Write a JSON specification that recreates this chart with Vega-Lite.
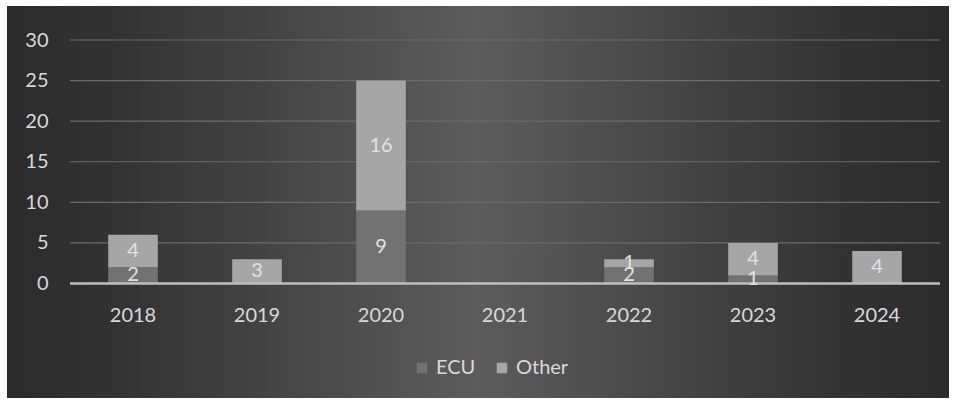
{
  "$schema": "https://vega.github.io/schema/vega-lite/v6.json",
  "width": 942,
  "height": 392,
  "autosize": {"type": "none"},
  "padding": {"left": 7, "top": 6, "right": 7, "bottom": 5},
  "background": "#ffffff",
  "config": {
    "view": {"stroke": null},
    "font": "Lato",
    "axis": {"labelFont": "Lato", "labelFontSize": 20, "labelColor": "#d9d9d9", "domain": false, "ticks": false, "grid": false, "zindex": 1},
    "legend": {"labelFont": "Lato", "labelFontSize": 20, "labelColor": "#d9d9d9", "zindex": 1}
  },
  "datasets": {
    "counts": [
      {"year": "2018", "s": "ECU", "v": 2},
      {"year": "2018", "s": "Other", "v": 4},
      {"year": "2019", "s": "Other", "v": 3},
      {"year": "2020", "s": "ECU", "v": 9},
      {"year": "2020", "s": "Other", "v": 16},
      {"year": "2022", "s": "ECU", "v": 2},
      {"year": "2022", "s": "Other", "v": 1},
      {"year": "2023", "s": "ECU", "v": 1},
      {"year": "2023", "s": "Other", "v": 4},
      {"year": "2024", "s": "Other", "v": 4}
    ],
    "grid": [{"g": 5}, {"g": 10}, {"g": 15}, {"g": 20}, {"g": 25}, {"g": 30}]
  },
  "layer": [
    {
      "data": {"values": [{}]},
      "mark": {
        "type": "rect",
        "fill": {
          "gradient": "linear", "x1": 0, "y1": 0, "x2": 1, "y2": 0,
          "stops": [
            {"offset": 0, "color": "#2b2b2b"},
            {"offset": 0.12, "color": "#333333"},
            {"offset": 0.5, "color": "#5c5c5c"},
            {"offset": 0.88, "color": "#333333"},
            {"offset": 1, "color": "#2b2b2b"}
          ]
        }
      },
      "encoding": {}
    },
    {
      "data": {"name": "grid"},
      "mark": {"type": "rule", "color": "#6b6b6b", "strokeWidth": 1.2},
      "encoding": {
        "y": {"field": "g", "type": "quantitative", "scale": {"domain": [-14.107, 34.189], "nice": false, "zero": false},
          "axis": {"title": null, "values": [0, 5, 10, 15, 20, 25, 30], "offset": -63, "labelPadding": 22, "zindex": 2}},
        "x": {"datum": 0, "type": "quantitative", "scale": {"domain": [-0.072414, 1.010345], "nice": false, "zero": false}, "axis": null},
        "x2": {"datum": 1}
      }
    },
    {
      "data": {"name": "counts"},
      "mark": {"type": "bar"},
      "encoding": {
        "x": {
          "field": "year", "type": "nominal",
          "scale": {"type": "band", "domain": ["2018", "2019", "2020", "2021", "2022", "2023", "2024"], "paddingInner": 0.6, "paddingOuter": 0.5984, "align": 0.682},
          "axis": {"title": null, "labelAngle": 0, "orient": "bottom", "offset": -114.5, "labelPadding": 22, "zindex": 2}
        },
        "y": {
          "field": "v", "type": "quantitative", "stack": "zero",
          "scale": {"domain": [-14.107, 34.189], "nice": false, "zero": false},
          "axis": {"title": null, "values": [0, 5, 10, 15, 20, 25, 30], "offset": -63, "labelPadding": 22, "zindex": 2}
        },
        "order": {"field": "s", "sort": "ascending"},
        "color": {
          "field": "s", "type": "nominal",
          "scale": {"domain": ["ECU", "Other"], "range": ["#727272", "#a6a6a6"]},
          "legend": {
            "title": null, "orient": "none", "direction": "horizontal",
            "legendX": 405, "legendY": 352,
            "symbolType": "square", "symbolSize": 110, "symbolStrokeWidth": 0,
            "columnPadding": 16, "labelOffset": 4
          }
        }
      }
    },
    {
      "data": {"values": [{"z": 0}]},
      "mark": {"type": "rule", "color": "#bfbfbf", "strokeWidth": 2.5},
      "encoding": {
        "y": {"field": "z", "type": "quantitative", "scale": {"domain": [-14.107, 34.189], "nice": false, "zero": false},
          "axis": {"title": null, "values": [0, 5, 10, 15, 20, 25, 30], "offset": -63, "labelPadding": 22, "zindex": 2}},
        "x": {"datum": 0, "type": "quantitative", "scale": {"domain": [-0.072414, 1.010345], "nice": false, "zero": false}, "axis": null},
        "x2": {"datum": 1}
      }
    },
    {
      "data": {"name": "counts"},
      "transform": [
        {"stack": "v", "groupby": ["year"], "sort": [{"field": "s", "order": "ascending"}], "as": ["y0", "y1"]},
        {"calculate": "(datum.y0 + datum.y1) / 2", "as": "ym"}
      ],
      "mark": {"type": "text", "fontSize": 20, "font": "Lato", "color": "#e2e2e2", "baseline": "middle"},
      "encoding": {
        "x": {"field": "year", "type": "nominal", "scale": {"type": "band", "domain": ["2018", "2019", "2020", "2021", "2022", "2023", "2024"], "paddingInner": 0.6, "paddingOuter": 0.5984, "align": 0.682}, "axis": null},
        "y": {"field": "ym", "type": "quantitative", "scale": {"domain": [-14.107, 34.189], "nice": false, "zero": false},
          "axis": {"title": null, "values": [0, 5, 10, 15, 20, 25, 30], "offset": -63, "labelPadding": 22, "zindex": 2}},
        "text": {"field": "v", "type": "quantitative"}
      }
    }
  ],
  "resolve": {"scale": {"x": "independent"}}
}
